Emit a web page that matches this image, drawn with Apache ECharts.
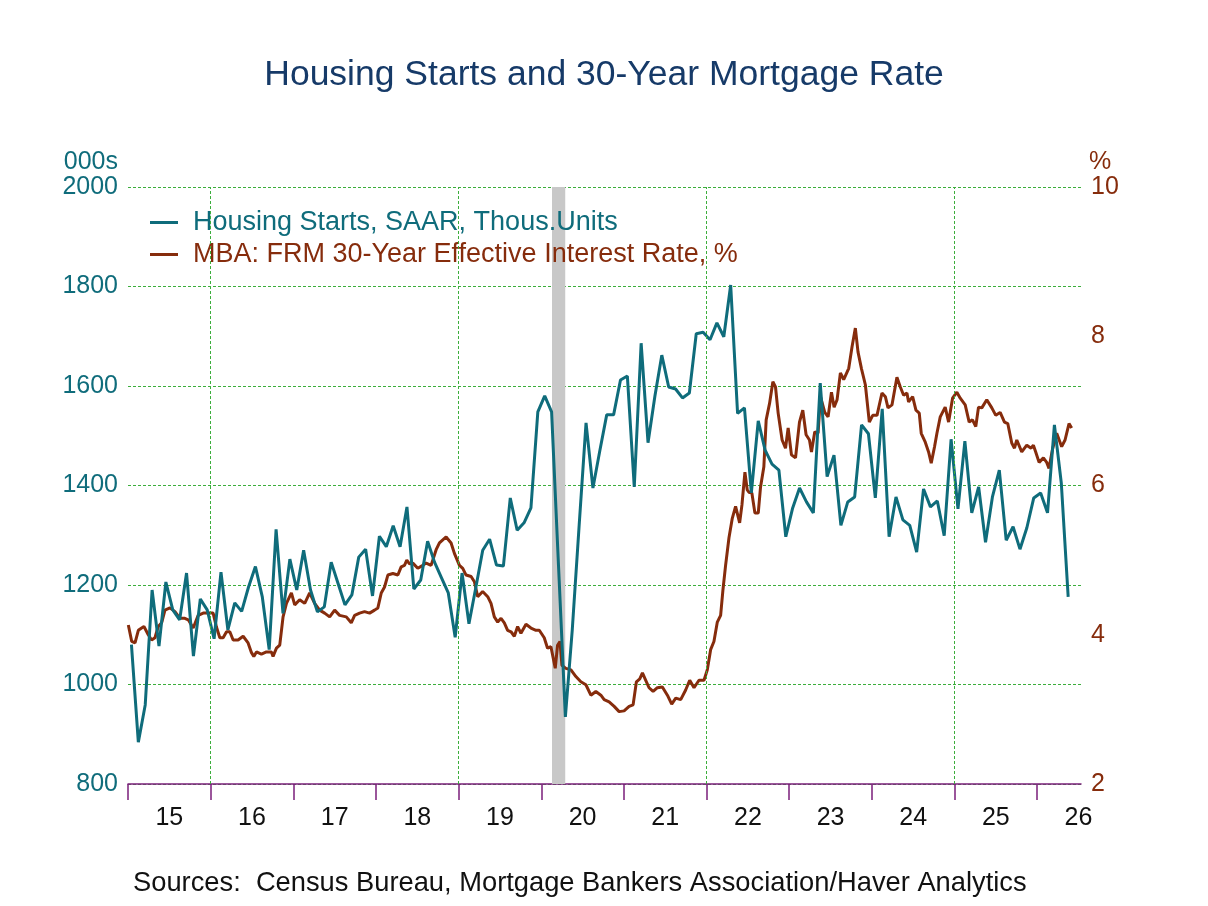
<!DOCTYPE html>
<html>
<head>
<meta charset="utf-8">
<script src="https://cdn.jsdelivr.net/npm/echarts@6/dist/echarts.min.js"></script>
<style>
  html, body { margin: 0; padding: 0; background: #fff; }
  #chart { width: 1208px; height: 906px; }
</style>
</head>
<body>
<div id="chart"></div>
<script>
// housing starts, monthly from Jan 2015 (thous. units, SAAR)
const startsYear = 2015;
const housingStarts = [
  1080, 884, 959, 1190, 1077, 1206, 1150, 1130, 1224, 1057, 1172, 1150,
  1092, 1226, 1110, 1164, 1147, 1196, 1237, 1176, 1070, 1312, 1143, 1252,
  1190, 1270, 1190, 1146, 1156, 1246, 1203, 1160, 1180, 1256, 1272, 1178,
  1298, 1277, 1319, 1277, 1357, 1192, 1210, 1288, 1246, 1215, 1184, 1095,
  1224, 1122, 1195, 1270, 1292, 1240, 1238, 1375, 1310, 1325, 1355, 1548,
  1580, 1548, 1240, 935, 1110, 1320, 1526, 1395, 1470, 1542, 1542, 1612,
  1620, 1397, 1686, 1486, 1580, 1662, 1598, 1594, 1576, 1586, 1705, 1708,
  1693, 1727, 1699, 1803, 1545, 1556, 1385, 1530, 1471, 1443, 1431, 1297,
  1355, 1395, 1367, 1345, 1606, 1418, 1461, 1320, 1367, 1377, 1522, 1504,
  1375, 1554, 1297, 1377, 1331, 1320, 1266, 1393, 1357, 1369, 1299, 1493,
  1353, 1489, 1345, 1397, 1286, 1377, 1431, 1290, 1317, 1272, 1315, 1375,
  1385, 1345, 1522, 1405, 1176
];

// MBA 30-year effective rate, sampled dates (decimal years) and values (%)
const rateDates = [
  2015.004, 2015.045, 2015.085, 2015.125, 2015.165, 2015.193, 2015.245, 2015.286, 2015.326, 2015.366,
  2015.407, 2015.447, 2015.507, 2015.568, 2015.628, 2015.688, 2015.729, 2015.789, 2015.849, 2015.910,
  2015.970, 2016.030, 2016.071, 2016.111, 2016.151, 2016.192, 2016.232, 2016.272, 2016.332, 2016.393,
  2016.453, 2016.494, 2016.522, 2016.554, 2016.614, 2016.675, 2016.735, 2016.755, 2016.796, 2016.836,
  2016.876, 2016.917, 2016.977, 2017.017, 2017.077, 2017.138, 2017.198, 2017.258, 2017.319, 2017.379,
  2017.440, 2017.500, 2017.560, 2017.641, 2017.701, 2017.742, 2017.802, 2017.862, 2017.923, 2017.983,
  2018.023, 2018.064, 2018.104, 2018.144, 2018.205, 2018.265, 2018.305, 2018.345, 2018.373, 2018.406,
  2018.446, 2018.506, 2018.567, 2018.607, 2018.667, 2018.728, 2018.768, 2018.849, 2018.909, 2018.949,
  2019.010, 2019.050, 2019.090, 2019.151, 2019.191, 2019.231, 2019.291, 2019.352, 2019.392, 2019.432,
  2019.473, 2019.513, 2019.553, 2019.593, 2019.634, 2019.674, 2019.714, 2019.754, 2019.815, 2019.875,
  2019.936, 2019.976, 2020.036, 2020.076, 2020.117, 2020.169, 2020.197, 2020.226, 2020.250, 2020.298,
  2020.359, 2020.419, 2020.479, 2020.540, 2020.600, 2020.660, 2020.721, 2020.761, 2020.821, 2020.882,
  2020.942, 2021.002, 2021.063, 2021.111, 2021.151, 2021.192, 2021.224, 2021.264, 2021.304, 2021.353,
  2021.405, 2021.465, 2021.526, 2021.578, 2021.627, 2021.687, 2021.747, 2021.796, 2021.848, 2021.908,
  2021.969, 2022.009, 2022.049, 2022.089, 2022.130, 2022.170, 2022.198, 2022.230, 2022.271, 2022.311,
  2022.351, 2022.400, 2022.428, 2022.464, 2022.492, 2022.512, 2022.548, 2022.585, 2022.625, 2022.653,
  2022.693, 2022.721, 2022.762, 2022.802, 2022.834, 2022.866, 2022.914, 2022.955, 2022.987, 2023.027,
  2023.076, 2023.124, 2023.164, 2023.204, 2023.245, 2023.269, 2023.309, 2023.349, 2023.378, 2023.430,
  2023.470, 2023.511, 2023.543, 2023.579, 2023.619, 2023.659, 2023.720, 2023.760, 2023.800, 2023.832,
  2023.873, 2023.921, 2023.969, 2024.010, 2024.062, 2024.122, 2024.163, 2024.195, 2024.243, 2024.303,
  2024.344, 2024.384, 2024.424, 2024.444, 2024.493, 2024.533, 2024.573, 2024.597, 2024.646, 2024.686,
  2024.718, 2024.758, 2024.787, 2024.827, 2024.887, 2024.928, 2024.976, 2025.028, 2025.069, 2025.129,
  2025.177, 2025.217, 2025.257, 2025.290, 2025.330, 2025.390, 2025.451, 2025.499, 2025.552, 2025.604,
  2025.644, 2025.692, 2025.725, 2025.753, 2025.813, 2025.874, 2025.926, 2025.954, 2025.982, 2026.023,
  2026.075, 2026.115, 2026.143, 2026.184, 2026.236, 2026.296, 2026.337, 2026.385, 2026.417
];
const rateValues = [
  4.13, 3.91, 3.89, 4.06, 4.09, 4.11, 4.00, 3.93, 3.96, 4.11,
  4.16, 4.33, 4.36, 4.31, 4.22, 4.22, 4.20, 4.09, 4.26, 4.29,
  4.29, 4.29, 4.10, 3.96, 3.96, 4.04, 4.04, 3.93, 3.93, 3.98,
  3.89, 3.76, 3.71, 3.77, 3.74, 3.77, 3.77, 3.71, 3.82, 3.86,
  4.24, 4.42, 4.56, 4.40, 4.47, 4.42, 4.56, 4.42, 4.33, 4.29,
  4.24, 4.33, 4.26, 4.24, 4.16, 4.26, 4.29, 4.31, 4.29, 4.33,
  4.36, 4.56, 4.64, 4.80, 4.82, 4.80, 4.91, 4.93, 5.00, 4.95,
  4.96, 4.89, 4.93, 4.96, 4.93, 5.14, 5.23, 5.31, 5.23, 5.09,
  4.93, 4.89, 4.80, 4.78, 4.71, 4.51, 4.58, 4.51, 4.42, 4.24,
  4.17, 4.22, 4.16, 4.06, 4.04, 3.98, 4.11, 4.02, 4.14, 4.09,
  4.06, 4.06, 3.96, 3.82, 3.84, 3.55, 3.86, 3.91, 3.59, 3.55,
  3.53, 3.44, 3.37, 3.33, 3.19, 3.24, 3.19, 3.13, 3.10, 3.04,
  2.97, 2.98, 3.04, 3.06, 3.37, 3.41, 3.49, 3.39, 3.29, 3.24,
  3.29, 3.30, 3.19, 3.07, 3.15, 3.13, 3.26, 3.39, 3.29, 3.39,
  3.39, 3.53, 3.80, 3.91, 4.17, 4.26, 4.60, 4.93, 5.30, 5.56,
  5.72, 5.50, 5.74, 6.18, 5.94, 5.91, 5.90, 5.63, 5.63, 5.98,
  6.25, 6.88, 7.10, 7.39, 7.32, 6.97, 6.61, 6.50, 6.77, 6.41,
  6.37, 6.85, 7.01, 6.68, 6.61, 6.45, 6.72, 6.70, 7.19, 6.98,
  6.92, 7.25, 7.05, 7.15, 7.51, 7.42, 7.57, 7.86, 8.11, 7.79,
  7.57, 7.35, 6.85, 6.94, 6.94, 7.24, 7.19, 7.04, 7.08, 7.45,
  7.32, 7.21, 7.24, 7.12, 7.19, 7.01, 6.97, 6.70, 6.58, 6.45,
  6.30, 6.52, 6.70, 6.92, 7.05, 6.85, 7.17, 7.25, 7.17, 7.08,
  6.85, 6.88, 6.79, 7.05, 7.04, 7.15, 7.04, 6.94, 6.98, 6.85,
  6.83, 6.57, 6.50, 6.61, 6.45, 6.54, 6.50, 6.54, 6.45, 6.31,
  6.37, 6.31, 6.23, 6.48, 6.70, 6.52, 6.61, 6.83, 6.77
];

const yearTicks = [2015, 2016, 2017, 2018, 2019, 2020, 2021, 2022, 2023, 2024, 2025, 2026];
const yearLabelPos = [2015.5, 2016.5, 2017.5, 2018.5, 2019.5, 2020.5, 2021.5, 2022.5, 2023.5, 2024.5, 2025.5, 2026.5];
const gridYears = [2016, 2019, 2022, 2025];
const recession = [2020.13, 2020.29];

const tealC = '#0f6c7b';
const brownC = '#862c0c';
const gridGreen = '#3cae3c';
const axisPurple = '#7b1f7b';
const font = 'Liberation Sans, Arial, sans-serif';

const startsData = housingStarts.map((v, i) => [startsYear + (i + 0.5) / 12, v]);
const rateData = rateDates.map((d, i) => [d, rateValues[i]]);

const chart = echarts.init(document.getElementById('chart'));
chart.setOption({
  animation: false,
  backgroundColor: '#fff',
  title: {
    text: 'Housing Starts and 30-Year Mortgage Rate',
    left: 'center',
    top: 52,
    textStyle: { color: '#163a68', fontSize: 35.5, fontWeight: 'normal', fontFamily: font }
  },
  legend: {
    orient: 'vertical',
    left: 145,
    top: 204,
    itemWidth: 28,
    itemHeight: 3,
    itemGap: 5,
    icon: 'rect',
    textStyle: { fontSize: 27, fontFamily: font, padding: [0, 0, 0, 10] },
    data: [
      { name: 'Housing Starts, SAAR, Thous.Units', textStyle: { color: tealC } },
      { name: 'MBA: FRM 30-Year Effective Interest Rate, %', textStyle: { color: brownC } }
    ]
  },
  grid: { left: 128, right: 127, top: 187, bottom: 122, containLabel: false },
  xAxis: {
    type: 'value',
    min: 2015,
    max: 2026.53,
    axisLine: { show: true, lineStyle: { color: axisPurple, width: 1.5 } },
    axisTick: { show: true, customValues: yearTicks, length: 16, lineStyle: { color: axisPurple, width: 1.5 } },
    axisLabel: {
      customValues: yearLabelPos,
      formatter: v => String(Math.floor(v)).slice(2),
      color: '#111', fontSize: 25, fontFamily: font, margin: 22
    },
    splitLine: { show: false }
  },
  yAxis: [
    {
      type: 'value', min: 800, max: 2000, interval: 200,
      name: '000s',
      nameLocation: 'end',
      nameGap: 6,
      nameTextStyle: { color: tealC, fontSize: 25, fontFamily: font, align: 'right', padding: [0, 10, 0, 0] },
      axisLine: { show: false }, axisTick: { show: false },
      axisLabel: { color: tealC, fontSize: 25, fontFamily: font, margin: 10, formatter: v => String(v) },
      splitLine: { show: true, lineStyle: { color: gridGreen, type: [3, 2], width: 1 } }
    },
    {
      type: 'value', min: 2, max: 10, interval: 2,
      name: '%',
      nameLocation: 'end',
      nameGap: 6,
      nameTextStyle: { color: brownC, fontSize: 25, fontFamily: font, align: 'left', padding: [0, 0, 0, 8] },
      axisLine: { show: false }, axisTick: { show: false },
      axisLabel: { color: brownC, fontSize: 25, fontFamily: font, margin: 10 },
      splitLine: { show: false }
    }
  ],
  series: [
    {
      name: 'MBA: FRM 30-Year Effective Interest Rate, %',
      type: 'line',
      yAxisIndex: 1,
      data: rateData,
      showSymbol: false,
      color: brownC,
      lineStyle: { color: brownC, width: 3 },
      z: 3,
      markArea: {
        silent: true,
        itemStyle: { color: '#c8c8c8' },
        data: [[{ xAxis: recession[0] }, { xAxis: recession[1] }]]
      },
      markLine: {
        silent: true,
        symbol: 'none',
        label: { show: false },
        lineStyle: { color: gridGreen, type: [3, 2], width: 1 },
        data: gridYears.map(y => ({ xAxis: y }))
      }
    },
    {
      name: 'Housing Starts, SAAR, Thous.Units',
      type: 'line',
      yAxisIndex: 0,
      data: startsData,
      showSymbol: false,
      color: tealC,
      lineStyle: { color: tealC, width: 3 },
      z: 4
    }
  ],
  graphic: [
    {
      type: 'text',
      left: 133,
      top: 870,
      style: {
        text: 'Sources:  Census Bureau, Mortgage Bankers Association/Haver Analytics',
        fill: '#111', fontSize: 27.3, fontFamily: font
      }
    }
  ]
});
</script>
</body>
</html>
